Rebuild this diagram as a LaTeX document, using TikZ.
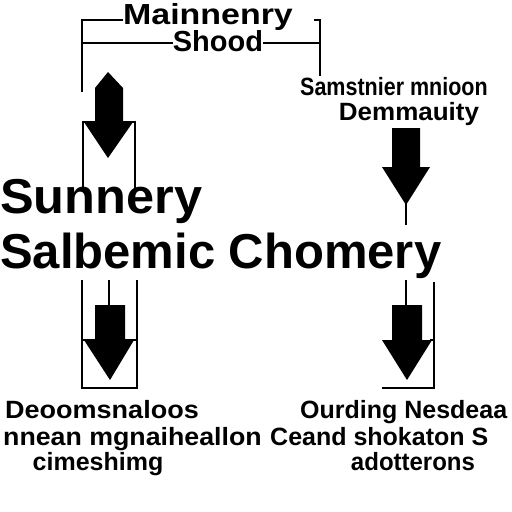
\documentclass[tikz,border=0pt]{standalone}
\usepackage{fontspec}
\setmainfont{Liberation Sans}
\begin{document}
\begin{tikzpicture}[x=1pt,y=-1pt,
  ln/.style={line width=2.4pt,line cap=butt},
  thin/.style={line width=2pt},
  blk/.style={fill=black,draw=none},
  big/.style={font=\fontsize{49}{50}\selectfont\bfseries,inner sep=0pt},
  hd/.style={font=\fontsize{29}{30}\selectfont\bfseries,inner sep=0pt},
  md/.style={font=\fontsize{25}{26}\selectfont\bfseries,inner sep=0pt},
  sm/.style={font=\fontsize{25}{26}\selectfont\bfseries,inner sep=0pt}]
\fill[white] (0,0) rectangle (512,512);
\useasboundingbox (0,0) rectangle (512,512);
% top texts
\node[hd,anchor=base,xscale=1.17] (t1) at (208,24) {Mainnenry};
\node[hd,anchor=base] (t2) at (218,51) {Shood};
\node[md,anchor=base west,xscale=0.86] (r1) at (300,95) {Samstnier mnioon};
\node[md,anchor=base,xscale=1.04] (r2) at (409,120) {Demmauity};
% middle
\node[big,anchor=base west,xscale=1.03] (m1) at (0,213) {Sunnery};
\node[big,anchor=base west] (m2) at (0,268) {Salbemic Chomery};
% bottom
\node[sm,anchor=base,xscale=1.08] (b1) at (102,418) {Deoomsnaloos};
\node[sm,anchor=base east,xscale=1.07] (b2) at (262,445) {nnean mgnaiheallon};
\node[sm,anchor=base] (b3) at (98,470) {cimeshimg};
\node[sm,anchor=base west] (c1) at (300,418) {Ourding Nesdeaa};
\node[sm,anchor=base west] (c2) at (270,445) {Ceand shokaton S};
\node[sm,anchor=base,xscale=0.96] (c3) at (413,470) {adotterons};
% bracket
\draw[ln] (123,20) -- (82,20) -- (82,92);
\draw[ln] (82,43) -- (t2.west |- 0,43);
\draw[ln] (t2.east |- 0,43) -- (320,43);
\draw[ln] (314,20) -- (320,20) -- (320,76);
% top-left double arrow
\fill[blk] (108,72) -- (123,88) -- (123,122) -- (133,122) -- (108,158) -- (84,122) -- (95,122) -- (95,88) -- cycle;
\draw[ln] (83,190) -- (83,122) -- (135,122) -- (135,190);
% top-right arrow
\fill[blk] (392,128) -- (420,128) -- (420,167) -- (430,167) -- (406,205) -- (382,167) -- (392,167) -- cycle;
\draw[thin] (406,200) -- (406,225);
% lower-left
\draw[ln] (82,280) -- (82,388) -- (137,388) -- (137,280);
\draw[thin] (109,280) -- (109,306);
\fill[blk] (95,305) -- (125,305) -- (125,340) -- (134,340) -- (110,380) -- (84,340) -- (95,340) -- cycle;
\draw[ln] (82,340) -- (137,340);
% lower-right
\draw[thin] (406,280) -- (406,306);
\fill[blk] (392,305) -- (422,305) -- (422,340) -- (432,340) -- (407,380) -- (382,340) -- (392,340) -- cycle;
\draw[ln] (434,282) -- (434,388) -- (382,388);
\draw[ln] (430,340) -- (434,340);
\end{tikzpicture}
\end{document}
